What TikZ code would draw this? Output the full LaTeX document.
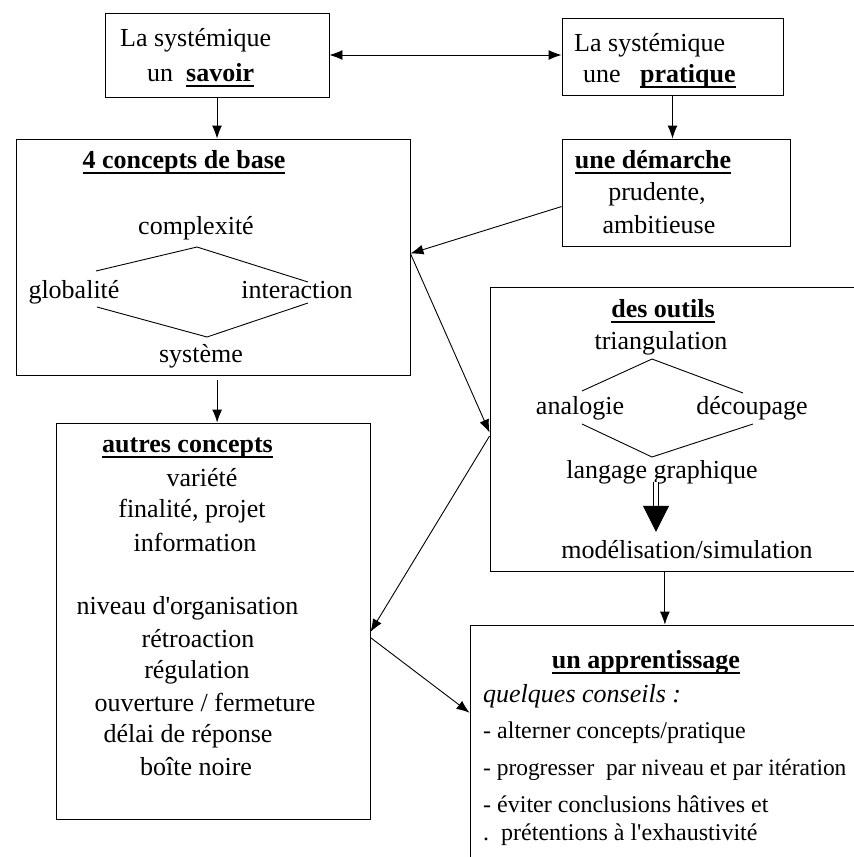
\documentclass[tikz,border=0pt]{standalone}
\usepackage{fontspec}
\setmainfont{Liberation Serif}
\usetikzlibrary{arrows.meta}
\newcommand\entete[1]{\setbox0=\hbox{\textbf{#1}}\rlap{\rule[-6pt]{\wd0}{2pt}}\box0}

\begin{document}
\begin{tikzpicture}[x=1pt,y=-1pt,
  box/.style={draw, rectangle, line width=0.9pt, inner sep=0pt},
  word/.style={anchor=base, inner sep=0pt, font=\fontsize{26}{30}\selectfont},
  item/.style={anchor=base west, inner sep=0pt, font=\fontsize{24}{28}\selectfont},
  arr/.style={line width=0.9pt, -{Latex[length=13pt,width=10pt]}},
  link/.style={line width=0.9pt}]
\path[use as bounding box] (0,0) rectangle (854,857);
\clip (0,0) rectangle (854,857);
\node[box, minimum width=224pt, minimum height=84pt] (sav) at (217,55) {};
\node[box, minimum width=221pt, minimum height=77pt] (prat) at (672.5,56.5) {};
\node[box, minimum width=228pt, minimum height=107pt] (dem) at (676,192.5) {};
\node[box, minimum width=394pt, minimum height=236pt] (base) at (213,257) {};
\node[box, minimum width=314pt, minimum height=396pt] (autres) at (213,621) {};
\node[box, minimum width=400pt, minimum height=284pt] (outils) at (690,429) {};
\node[box, minimum width=420pt, minimum height=265pt] (appr) at (680,757.5) {};
\node[word, anchor=base west] (sav1) at (120,46) {La systémique};
\node[word, anchor=base west] (sav2) at (147,81) {un~~\entete{savoir}};
\node[word, anchor=base west] (prat1) at (574,51) {La systémique};
\node[word, anchor=base west] (prat2) at (583,82) {une~~~\entete{pratique}};
\node[word] (dem1) at (653,168) {\entete{une démarche}};
\node[word] (dem2) at (657,200) {prudente,};
\node[word] (dem3) at (659,233) {ambitieuse};
\node[word] (base1) at (184,168) {\entete{4 concepts de base}};
\node[word] (cx) at (196,234) {complexité};
\node[word] (glob) at (74,298) {globalité};
\node[word] (inter) at (297,298) {interaction};
\node[word] (sys) at (201,362) {système};
\node[word] (out1) at (663,317) {\entete{des outils}};
\node[word] (tri) at (661,349) {triangulation};
\node[word] (ana) at (580,414) {analogie};
\node[word] (dec) at (752,414) {découpage};
\node[word] (lang) at (662,478) {langage graphique};
\node[word] (mod) at (687,558) {modélisation/simulation};
\node[word] (aut1) at (187.5,452) {\entete{autres concepts}};
\node[word] (var) at (202,486) {variété};
\node[word] (fin) at (192,517) {finalité, projet};
\node[word] (info) at (195,551) {information};
\node[word] (niv) at (187.5,614) {niveau d\textquotesingle organisation};
\node[word] (retro) at (198,647) {rétroaction};
\node[word] (regul) at (197,678) {régulation};
\node[word] (ouv) at (205,711) {ouverture / fermeture};
\node[word] (delai) at (188,742) {délai de réponse};
\node[word] (boite) at (196,775) {boîte noire};
\node[word] (app1) at (646,668) {\entete{un apprentissage}};
\node[word, anchor=base west] (cons) at (483,702) {\itshape quelques conseils :};
\node[item] (c1) at (483,738) {- alterner concepts/pratique};
\node[item, font=\fontsize{23.4}{28}\selectfont] (c2) at (483,775) {- progresser~~par niveau et par itération};
\node[item] (c3) at (483,812) {- éviter conclusions hâtives et};
\node[item] (c4) at (483,840) {.~~prétentions à l\textquotesingle exhaustivité};
\coordinate (bl1) at (96,271);
\coordinate (bt) at (197,247);
\coordinate (br1) at (308,282);
\coordinate (bl2) at (97,307);
\coordinate (bb) at (207,337);
\coordinate (br2) at (308,303);
\coordinate (ol1) at (582,391);
\coordinate (ot) at (652,359);
\coordinate (or1) at (743,393);
\coordinate (ol2) at (582,424);
\coordinate (ob) at (652,457);
\coordinate (or2) at (753,424);
\coordinate (ga) at ([xshift=-6pt,yshift=2pt]lang.south);
\draw[link] (bl1) -- (bt) -- (br1);
\draw[link] (bl2) -- (bb) -- (br2);
\draw[link] (ol1) -- (ot) -- (or1);
\draw[link] (ol2) -- (ob) -- (or2);
\draw[line width=0.9pt, {Latex[length=13pt,width=10pt]}-{Latex[length=13pt,width=10pt]}] (sav.east) -- (sav.east -| prat.west);
\draw[arr] (sav.south) -- (sav.south |- base.north);
\draw[arr] (prat.south) -- (prat.south |- dem.north);
\draw[arr] (dem.187) -- (base.1);
\draw[arr] (base.1) -- (outils.181);
\draw[arr] (outils.182) -- (autres.356);
\draw[arr] (autres.354) -- (appr.168);
\draw[arr, shorten <=5pt] (base.272) -- (base.272 |- autres.north);
\draw[arr] (outils.260.4) -- (outils.260.4 |- appr.north);
\draw[double, double distance=3.5pt, line width=1pt] (ga) -- ([yshift=-25pt]ga);
\draw[line width=0.8pt, -{Triangle[length=26pt,width=26pt]}] ([yshift=-24pt]ga) -- ([yshift=-50pt]ga);
\end{tikzpicture}
\end{document}
